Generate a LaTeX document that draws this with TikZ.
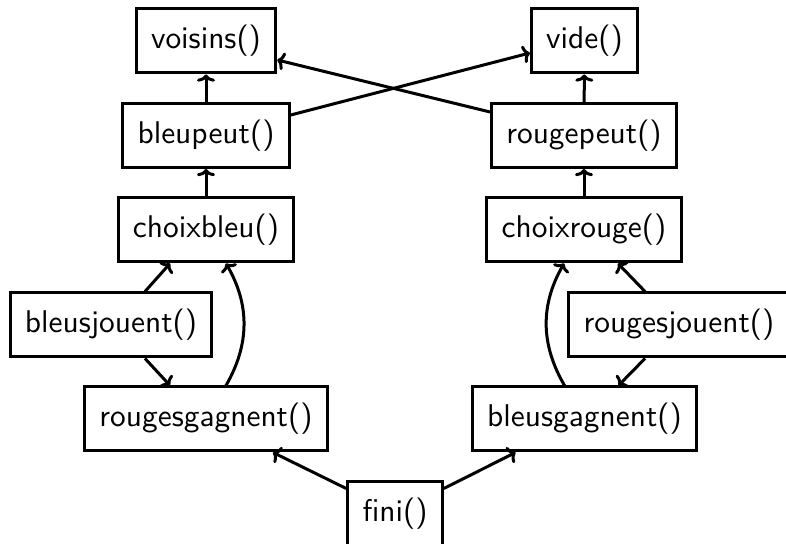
\documentclass[tikz,border=0pt]{standalone}
\usepackage{fontspec}
\newfontfamily\boxfont{lmsans10-regular.otf}
\usetikzlibrary{arrows.meta,calc}

\tikzset{
  fn/.style={draw, line width=1.5pt, inner xsep=7.4pt, minimum height=32pt,
    text height=11.7pt, text depth=3.9pt,
    font=\boxfont\fontsize{15.7}{18}\selectfont},
  call/.style={line width=1.5pt,
    -{Computer Modern Rightarrow[width=9pt,length=3.6pt]}}
}

\begin{document}
\begin{tikzpicture}[x=0.5pt,y=0.5pt]
  \useasboundingbox (0,0) rectangle (786,544);

  % left column: the blue side
  \node[fn] (vo) at (206,503)   {voisins()};
  \node[fn] (bp) at (206,408.5) {bleupeut()};
  \node[fn] (cb) at (206,314)   {choixbleu()};
  \node[fn] (bj) at (111,219)   {bleusjouent()};
  \node[fn] (rg) at (206,125)   {rougesgagnent()};

  % right column: the red side
  \node[fn] (vd) at (584.5,503) {vide()};
  \node[fn] (rp) at (584,408.5) {rougepeut()};
  \node[fn] (cr) at (584,314)   {choixrouge()};
  \node[fn] (rj) at (679,219)   {rougesjouent()};
  \node[fn] (bg) at (584.5,125) {bleusgagnent()};

  \node[fn] (fi) at (395,30) {fini()};

  % vertical calls
  \draw[call] (bp) -- (vo);
  \draw[call] (cb) -- (bp);
  \draw[call] (rp) -- (vd);
  \draw[call] (cr) -- (rp);

  % crossed calls
  \draw[call] ($(bp.east)+(0,20.5)$) -- ($(vd.west)+(0,-12)$);
  \draw[call] ($(rp.west)+(0,23.5)$) -- ($(vo.east)+(0,-19)$);

  % blue turn
  \draw[call] ($(bj.north)+(34,0)$) -- ($(cb.south)+(-36,0)$);
  \draw[call] ($(bj.south)+(34,0)$) -- ($(rg.north)+(-36,0)$);
  \draw[call] ($(rg.north)+(20,0)$) to[bend right=30] ($(cb.south)+(20,0)$);

  % red turn
  \draw[call] ($(rj.north)+(-34,0)$) -- ($(cr.south)+(34,0)$);
  \draw[call] ($(rj.south)+(-34,0)$) -- ($(bg.north)+(34,0)$);
  \draw[call] ($(bg.north)+(-20,0)$) to[bend left=30] ($(cr.south)+(-20,0)$);

  % end of game
  \draw[call] ($(fi.north west)+(0,-8)$) -- ($(rg.south)+(67,0)$);
  \draw[call] ($(fi.north east)+(0,-8)$) -- ($(bg.south)+(-69,0)$);
\end{tikzpicture}
\end{document}
